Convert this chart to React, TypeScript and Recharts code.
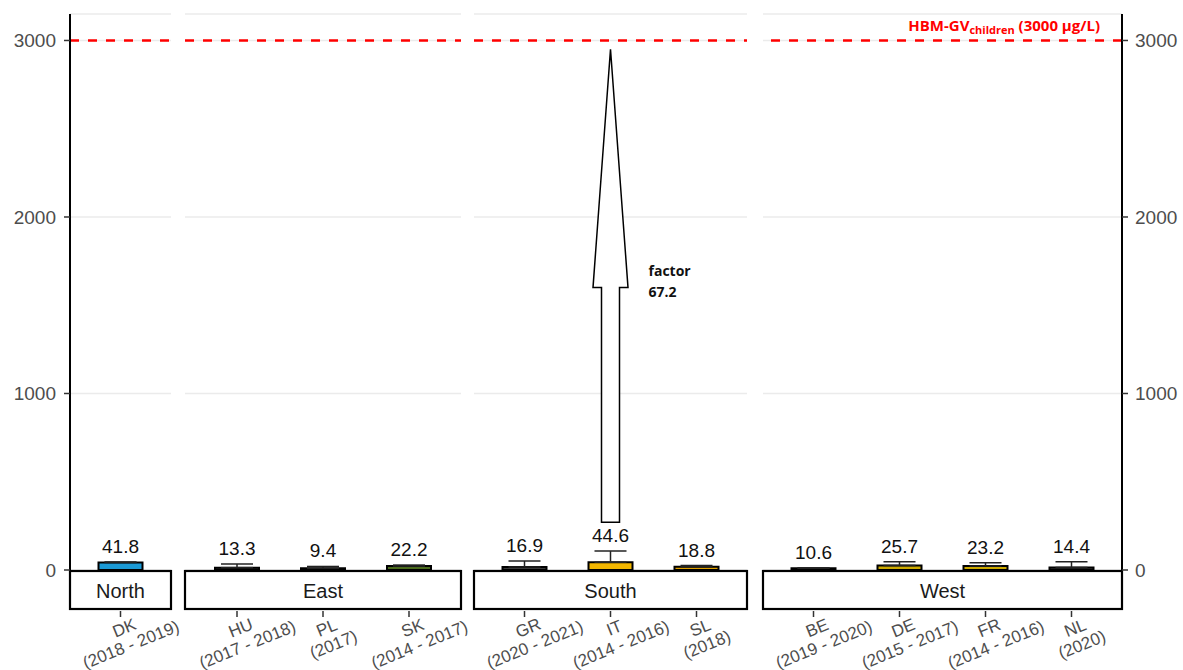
import React from 'react';
import { BarChart, Bar, XAxis, YAxis, CartesianGrid, ReferenceLine, ErrorBar, LabelList, Cell } from 'recharts';

// ---------- data ----------
const regions = ['North', 'East', 'South', 'West'];
const countries = ['DK', 'HU', 'PL', 'SK', 'GR', 'IT', 'SL', 'BE', 'DE', 'FR', 'NL'];
const countryRegion = ['North', 'East', 'East', 'East', 'South', 'South', 'South', 'West', 'West', 'West', 'West'];
const studyYears = ['2018 - 2019', '2017 - 2018', '2017', '2014 - 2017', '2020 - 2021', '2014 - 2016', '2018', '2019 - 2020', '2015 - 2017', '2014 - 2016', '2020'];
const geoMeans = [41.8, 13.3, 9.4, 22.2, 16.9, 44.6, 18.8, 10.6, 25.7, 23.2, 14.4];
const ciUpper = [45, 34, 20, 28, 51, 107, 25, 12, 47, 41, 47];
const barFills = ['#1B9AD6', '#3A3A3A', '#3A3A3A', '#4A6A1C', '#3A3A3A', '#F2B600', '#E0A000', '#3A3A3A', '#CDAA00', '#CDAA00', '#3A3A3A'];
const yTicks = [0, 1000, 2000, 3000];
const yDomainMax = 3150;
const guidanceValue = 3000;
const guidanceLabelMain = 'HBM-GV';
const guidanceLabelSub = 'children';
const guidanceLabelTail = ' (3000 µg/L)';
const arrowCountry = 'IT';
const arrowFrom = 270;
const arrowTo = 2950;
const arrowHeadBase = 1600;
const arrowText = ['factor', '67.2'];

// ---------- layout ----------
const CHART_H = 670;
const X_AXIS_H = 100;
const PLOT_BOTTOM = CHART_H - X_AXIS_H;
const BAND = 86;
const panelLeft = [70, 185, 474, 763];
const panelWidth = [101, 276, 273, 359];
const LEFT_AXIS_W = 70;
const RIGHT_AXIS_W = 61;
const FONT = '"Liberation Sans", Arial, sans-serif';

const rows = countries.map((code, i) => ({
  code,
  region: countryRegion[i],
  years: studyYears[i],
  gm: geoMeans[i],
  upper: ciUpper[i],
  err: [0, ciUpper[i] - geoMeans[i]],
  fill: barFills[i],
  arrow: code === arrowCountry ? [arrowFrom, arrowTo] : null,
}));
const rowByCode: Record<string, any> = {};
rows.forEach((r) => (rowByCode[r.code] = r));

const CountryTick = (props: any) => {
  const { x, payload } = props;
  const row = rowByCode[payload.value];
  const y = PLOT_BOTTOM;
  return (
    <g>
      <line x1={x} x2={x} y1={y + 41} y2={y + 47} stroke="#333" strokeWidth={1.5} />
      <g transform={`translate(${x + 7},${y + 66}) rotate(-22)`}>
        <text textAnchor="middle" fill="#4D4D4D" fontSize={17} fontFamily={FONT}>
          <tspan x={0} y={-3}>{row.code}</tspan>
          <tspan x={0} y={15}>({row.years})</tspan>
        </text>
      </g>
    </g>
  );
};

const Strip = (props: any) => {
  const { viewBox, name } = props;
  const { x, width } = viewBox;
  const y = PLOT_BOTTOM;
  return (
    <g>
      <rect x={x} y={y + 1} width={width} height={38} fill="#fff" stroke="#000" strokeWidth={2.2} />
      <text x={x + width / 2} y={y + 28} textAnchor="middle" fontSize={20} fill="#1A1A1A" fontFamily={FONT}>
        {name}
      </text>
    </g>
  );
};

const GuidanceLabel = (props: any) => {
  const { viewBox } = props;
  const { x, y, width } = viewBox;
  return (
    <text x={x + width - 22} y={y - 9} textAnchor="end" fill="#FF0000" fontWeight={700} fontSize={15} fontFamily='"Open Sans", sans-serif'>
      {guidanceLabelMain}
      <tspan fontSize={11} dy={3}>{guidanceLabelSub}</tspan>
      <tspan dy={-3}>{guidanceLabelTail}</tspan>
    </text>
  );
};

const makeValueLabel = (data: any[]) => (props: any) => {
  const { x, y, width, height, value, index } = props;
  const row = data[index];
  if (!row || !value) return null;
  const pxPerUnit = height / value;
  const topY = y - (row.upper - row.gm) * pxPerUnit;
  return (
    <text x={x + width / 2} y={topY - 9} textAnchor="middle" fill="#111" fontSize={19} fontFamily={FONT}>
      {value}
    </text>
  );
};

const ArrowShape = (props: any) => {
  const { x, y, width, height, payload } = props;
  if (!payload || !payload.arrow || !height) return null;
  const cx = x + width / 2;
  const top = y;
  const bottom = y + height;
  const headY = top + (height * (arrowTo - arrowHeadBase)) / (arrowTo - arrowFrom);
  const sw = 9;
  const hw = 17.5;
  const pts = [
    [cx, top],
    [cx + hw, headY],
    [cx + sw, headY],
    [cx + sw, bottom],
    [cx - sw, bottom],
    [cx - sw, headY],
    [cx - hw, headY],
  ]
    .map((p) => p.join(','))
    .join(' ');
  return (
    <g>
      <polygon points={pts} fill="#fff" stroke="#000" strokeWidth={1.5} />
      <text x={cx + 38} y={headY - 12} fontSize={14} fontWeight={700} fill="#111" fontFamily='"Open Sans", sans-serif'>
        {arrowText[0]}
      </text>
      <text x={cx + 38} y={headY + 9} fontSize={14} fontWeight={700} fill="#111" fontFamily='"Open Sans", sans-serif'>
        {arrowText[1]}
      </text>
    </g>
  );
};

const Panel = ({ region, idx }: { region: string; idx: number }) => {
  const data = rows.filter((r) => r.region === region);
  const isFirst = idx === 0;
  const isLast = idx === regions.length - 1;
  const plotW = panelWidth[idx];
  const yW = isFirst ? LEFT_AXIS_W : isLast ? RIGHT_AXIS_W : 0;
  const chartW = plotW + yW;
  const left = isFirst ? panelLeft[idx] - LEFT_AXIS_W : panelLeft[idx];
  const pad = (plotW - data.length * BAND) / 2;
  const hasArrow = data.some((d) => d.arrow);
  return (
    <div style={{ position: 'absolute', left, top: 0, zIndex: regions.length - idx }}>
      <BarChart
        width={chartW}
        height={CHART_H}
        data={data}
        margin={{ top: 14, right: 0, bottom: 0, left: 0 }}
        barSize={44}
        style={{ overflow: 'visible' }}
      >
        <CartesianGrid xAxisId="main" vertical={false} stroke="#EBEBEB" strokeWidth={1.5} />
        <XAxis
          xAxisId="main"
          dataKey="code"
          height={X_AXIS_H}
          padding={{ left: pad, right: pad }}
          axisLine={false}
          tickLine={false}
          tickSize={0}
          tickMargin={0}
          interval={0}
          tick={<CountryTick />}
          label={<Strip name={region} />}
        />
        <XAxis xAxisId="arrow" dataKey="code" hide padding={{ left: pad, right: pad }} />
        <YAxis
          orientation={isLast ? 'right' : 'left'}
          hide={!isFirst && !isLast}
          width={yW || 0}
          domain={[0, yDomainMax]}
          allowDataOverflow
          ticks={yTicks}
          interval={0}
          axisLine={{ stroke: '#000', strokeWidth: 2 }}
          tickLine={{ stroke: '#333', strokeWidth: 1.5 }}
          tickSize={6}
          tickMargin={isFirst ? 8 : 7}
          tick={{ fill: '#4D4D4D', fontSize: 19, fontFamily: FONT }}
        />
        <ReferenceLine
          xAxisId="main"
          y={guidanceValue}
          stroke="#FF0000"
          strokeWidth={2.5}
          strokeDasharray="9 9"
          label={isLast ? <GuidanceLabel /> : undefined}
        />
        <Bar xAxisId="main" dataKey="gm" stroke="#000" strokeWidth={2} isAnimationActive={false}>
          {data.map((d) => (
            <Cell key={d.code} fill={d.fill} />
          ))}
          <ErrorBar dataKey="err" width={16} stroke="#222" strokeWidth={1.5} direction="y" />
          <LabelList dataKey="gm" content={makeValueLabel(data)} />
        </Bar>
        {hasArrow && <Bar xAxisId="arrow" dataKey="arrow" shape={<ArrowShape />} isAnimationActive={false} />}
      </BarChart>
    </div>
  );
}

export default function App() {
  return (
    <div
      style={{
        position: 'absolute',
        left: 0,
        top: 0,
        width: 1183,
        height: 670,
        background: '#fff',
        overflow: 'hidden',
        fontFamily: FONT,
      }}
    >
      <style>{'.recharts-surface{overflow:visible}.recharts-wrapper{overflow:visible}'}</style>
      {regions.map((r, i) => (
        <Panel key={r} region={r} idx={i} />
      ))}
    </div>
  );
}
